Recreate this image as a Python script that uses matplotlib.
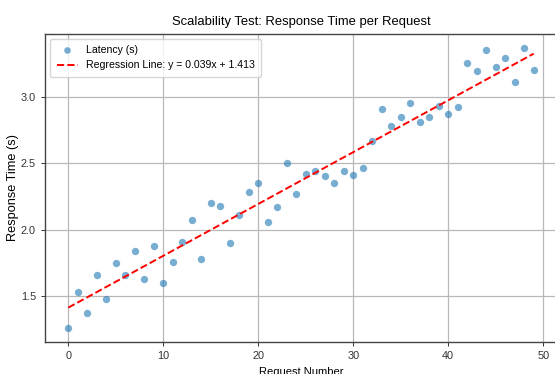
import matplotlib
matplotlib.use("Agg")
import matplotlib.pyplot as plt
from matplotlib import font_manager
import numpy as np

# ---- data ----
request_numbers = list(range(50))
latency = [1.26, 1.53, 1.37, 1.66, 1.48, 1.75, 1.66, 1.84, 1.63, 1.88,
           1.60, 1.76, 1.91, 2.07, 1.78, 2.20, 2.18, 1.90, 2.11, 2.28,
           2.35, 2.06, 2.17, 2.50, 2.27, 2.42, 2.44, 2.40, 2.35, 2.44,
           2.41, 2.46, 2.67, 2.91, 2.78, 2.85, 2.95, 2.81, 2.85, 2.93,
           2.87, 2.92, 3.25, 3.19, 3.35, 3.22, 3.29, 3.11, 3.37, 3.20]
slope = 0.039
intercept = 1.413

title = "Scalability Test: Response Time per Request"
xlabel = "Request Number"
ylabel = "Response Time (s)"
scatter_label = "Latency (s)"
line_label = f"Regression Line: y = {slope:.3f}x + {intercept:.3f}"

# ---- font ----
names = {f.name for f in font_manager.fontManager.ttflist}
if "Liberation Sans Narrow" in names:
    fam = ["Liberation Sans Narrow", "DejaVu Sans"]
else:
    fam = ["Liberation Sans", "DejaVu Sans"]
plt.rcParams["font.family"] = fam

fig = plt.figure(figsize=(5.55, 3.74), dpi=100)
ax = fig.add_axes([45 / 555, 32 / 374, 512 / 555, 308.5 / 374])

x = np.array(request_numbers)
ax.scatter(x, latency, s=28, color="tab:blue", alpha=0.6, linewidths=0,
           label=scatter_label, zorder=3)
ax.plot(x, slope * x + intercept, linestyle="--", color="red", linewidth=1.4,
        label=line_label, zorder=4)

ax.set_title(title, fontsize=9.4, pad=6)
ax.set_xlabel(xlabel, fontsize=8.0, labelpad=4)
ax.set_ylabel(ylabel, fontsize=9.2, labelpad=1)
ax.tick_params(labelsize=7.8, length=3, width=0.7, colors="#333333")
ax.grid(True, color="#b8b8b8", linewidth=0.9)
ax.set_axisbelow(True)
for sp in ax.spines.values():
    sp.set_color("#444444")
    sp.set_linewidth(1.0)

ax.legend(loc="upper left", fontsize=7.6, scatterpoints=1, framealpha=0.8,
          borderpad=0.6, handlelength=2.0, markerscale=0.9)

fig.savefig("out.png", dpi=100)
